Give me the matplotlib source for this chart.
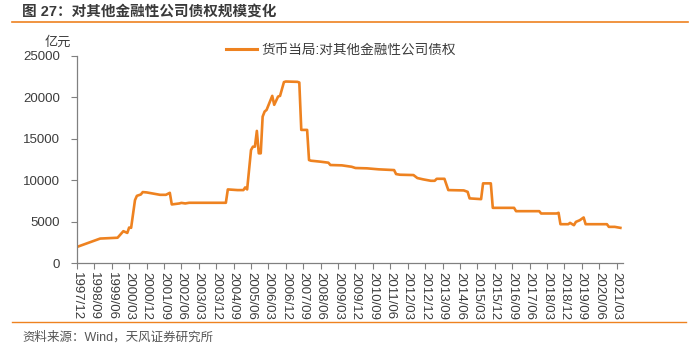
import matplotlib
matplotlib.use("Agg")
import matplotlib.pyplot as plt
from matplotlib.lines import Line2D
import pandas as pd

plt.rcParams['font.family'] = ['Liberation Sans', 'Noto Sans CJK SC', 'DejaVu Sans']

title = "图 27：对其他金融性公司债权规模变化"
source = "资料来源：Wind，天风证券研究所"
series_name = "货币当局:对其他金融性公司债权"
unit = "亿元"

dates = ["1997-12", "1998-12", "1999-09", "1999-12", "2000-02", "2000-03", "2000-04",
         "2000-06", "2000-07", "2000-09", "2000-10", "2000-12", "2001-07", "2001-10",
         "2001-12", "2002-01", "2002-05", "2002-06", "2002-08", "2002-10", "2004-05",
         "2004-06", "2004-11", "2005-02", "2005-03", "2005-04", "2005-06", "2005-07",
         "2005-08", "2005-09", "2005-10", "2005-11", "2005-12", "2006-01", "2006-02",
         "2006-05", "2006-06", "2006-08", "2006-09", "2006-11", "2006-12", "2007-06",
         "2007-07", "2007-08", "2007-11", "2007-12", "2008-01", "2008-06", "2008-10",
         "2008-11", "2009-05", "2009-10", "2009-12", "2010-06", "2010-12", "2011-08",
         "2011-09", "2011-11", "2012-06", "2012-08", "2012-11", "2013-03", "2013-05",
         "2013-06", "2013-10", "2013-12", "2014-08", "2014-10", "2014-11", "2015-05",
         "2015-06", "2015-10", "2015-11", "2016-10", "2016-11", "2017-11", "2017-12",
         "2018-08", "2018-09", "2018-10", "2019-02", "2019-03", "2019-05", "2019-06",
         "2019-08", "2019-10", "2019-11", "2020-10", "2020-11", "2021-02", "2021-05"]
values = [1970, 2980, 3080, 3870, 3660, 4310, 4270,
          7610, 8130, 8290, 8580, 8540, 8250, 8250,
          8490, 7090, 7210, 7280, 7210, 7290, 7290,
          8900, 8820, 8820, 9140, 8900, 13650, 14050,
          14050, 15950, 13250, 13250, 17670, 18280, 18480,
          20170, 19090, 20090, 20170, 21830, 21900, 21860,
          21780, 16070, 16070, 12440, 12360, 12240, 12120,
          11840, 11800, 11630, 11480, 11440, 11320, 11230,
          10750, 10670, 10630, 10270, 10110, 9940, 9940,
          10180, 10180, 8820, 8780, 8610, 7820, 7730,
          9630, 9630, 6680, 6680, 6280, 6280, 6000,
          6000, 6080, 4710, 4710, 4870, 4590, 4990,
          5190, 5520, 4710, 4710, 4390, 4390, 4270]

tick_labels = ["1997/12", "1998/09", "1999/06", "2000/03", "2000/12", "2001/09", "2002/06",
               "2003/03", "2003/12", "2004/09", "2005/06", "2006/03", "2006/12", "2007/09",
               "2008/06", "2009/03", "2009/12", "2010/09", "2011/06", "2012/03", "2012/12",
               "2013/09", "2014/06", "2015/03", "2015/12", "2016/09", "2017/06", "2018/03",
               "2018/12", "2019/09", "2020/06", "2021/03"]
y_ticks = [0, 5000, 10000, 15000, 20000, 25000]

orange = "#EE8220"
text_col = "#3c3c3c"

x = pd.to_datetime(dates, format="%Y-%m")
xt = pd.to_datetime(tick_labels, format="%Y/%m")

fig = plt.figure(figsize=(6.96, 3.56), dpi=100)
ax = fig.add_axes([0.1106, 0.2604, 0.7844, 0.5829])

ax.plot(x, values, color=orange, lw=1.9, solid_joinstyle='round')
ax.set_ylim(0, 25000)
ax.set_xlim(pd.Timestamp("1997-12-01"), pd.Timestamp("2021-06-10"))
ax.set_yticks(y_ticks)
ax.set_yticklabels([str(v) for v in y_ticks])
ax.set_xticks(xt)
ax.set_xticklabels(tick_labels, rotation=-90, va='top', ha='center')

for s in ['top', 'right']:
    ax.spines[s].set_visible(False)
for s in ['left', 'bottom']:
    ax.spines[s].set_color('#808080')
    ax.spines[s].set_linewidth(0.9)
ax.tick_params(axis='both', colors='#808080', labelcolor=text_col, labelsize=9.5,
               length=4, width=0.8, direction='out')
ax.tick_params(axis='y', pad=8)
ax.tick_params(axis='x', pad=2)

fig.text(45/696, 1 - 43/356, unit, fontsize=9.5, color=text_col, ha='left', va='center')

handle = Line2D([0], [0], color=orange, lw=2.2)
fig.legend([handle], [series_name], loc='center left', bbox_to_anchor=(225.5/696, 1 - 50/356),
           frameon=False, fontsize=9.8, handlelength=2.28, handletextpad=0.37,
           labelcolor=text_col, borderaxespad=0, borderpad=0)

fig.text(22/696, 1 - 12/356, title, fontsize=10.5, fontweight='bold', color="#3a3a3a",
         ha='left', va='center')
fig.add_artist(Line2D([12/696, 688/696], [1 - 22/356, 1 - 22/356], color=orange, lw=1.2,
                      transform=fig.transFigure))
fig.add_artist(Line2D([12/696, 686/696], [1 - 322/356, 1 - 322/356], color=orange, lw=1.0,
                      transform=fig.transFigure))
fig.text(22/696, 1 - 337/356, source, fontsize=9, color="#555555", ha='left', va='center')

fig.savefig("out.png", dpi=100)
